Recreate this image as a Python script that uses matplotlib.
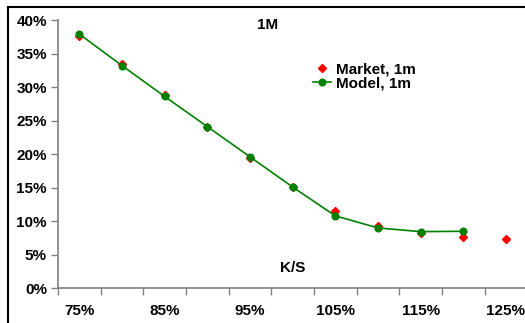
import matplotlib
matplotlib.use("Agg")
import matplotlib.pyplot as plt
from matplotlib.patches import Rectangle
from matplotlib.ticker import FuncFormatter

plt.rcParams['font.family'] = ['Liberation Sans', 'DejaVu Sans']
plt.rcParams['font.weight'] = 'bold'

# Strike / spot categories
strikes = [75, 80, 85, 90, 95, 100, 105, 110, 115, 120, 125]
# Implied volatilities (%)
market_vol = [37.6, 33.5, 28.8, 24.1, 19.5, 15.1, 11.5, 9.35, 8.2, 7.7, 7.4]
model_vol = [37.9, 33.2, 28.6, 24.1, 19.6, 15.1, 10.8, 9.0, 8.45, 8.5]
tick_labels = ["75%", "85%", "95%", "105%", "115%", "125%"]

W, H = 525, 323
fig = plt.figure(figsize=(W / 100, H / 100), dpi=100)
ax = fig.add_axes([58 / W, (H - 288.3) / H, 469.3 / W, 268.3 / H])

x_market = list(range(len(market_vol)))
x_model = list(range(len(model_vol)))

ax.plot(x_market, [v / 100 for v in market_vol], linestyle='none', marker='D',
        markersize=4, color='#ff0000', label='Market, 1m', zorder=2)
ax.plot(x_model, [v / 100 for v in model_vol], color='#008000', linewidth=1.2,
        marker='o', markersize=4.8, label='Model, 1m', zorder=3)

ax.set_xlim(-0.5, len(strikes) - 0.5)
ax.set_ylim(0, 0.40)
ax.set_yticks([i / 100 for i in range(0, 41, 5)])
ax.yaxis.set_major_formatter(FuncFormatter(lambda v, p: f"{round(v * 100):d}%"))

# Ticks between categories, labels on every other category
ax.set_xticks([i - 0.5 for i in range(len(strikes) + 1)])
ax.set_xticklabels([])
ax.set_xticks(list(range(0, len(strikes), 2)), minor=True)
ax.set_xticklabels(tick_labels, minor=True)
ax.tick_params(axis='x', which='major', length=5, direction='out', color='#808080', width=1)
ax.tick_params(axis='x', which='minor', length=0, pad=11, labelsize=11)
ax.tick_params(axis='y', length=5, direction='out', color='#808080', width=1, labelsize=11, pad=3)

for s in ['top', 'right']:
    ax.spines[s].set_visible(False)
for s in ['left', 'bottom']:
    ax.spines[s].set_color('#808080')
    ax.spines[s].set_linewidth(1.2)

for lab in ax.get_xticklabels(minor=True) + ax.get_yticklabels():
    lab.set_fontweight('bold')

fig.text(268 / W, 1 - 25 / H, "1M", ha='center', va='center', fontsize=11, fontweight='bold')
fig.text(293 / W, 1 - 268 / H, "K/S", ha='center', va='center', fontsize=11, fontweight='bold')

leg = ax.legend(loc='upper left', bbox_to_anchor=(313 / W, 1 - 62 / H),
                bbox_transform=fig.transFigure, frameon=False, fontsize=11,
                handlelength=1.2, handletextpad=0.3, labelspacing=0.0,
                borderpad=0, borderaxespad=0)
for t in leg.get_texts():
    t.set_fontweight('bold')

# Outer chart frame
fig.patches.append(Rectangle((8 / W, -0.1), 1.2, 1.1 - 6.5 / H, transform=fig.transFigure,
                             fill=False, edgecolor='black', linewidth=1.5, zorder=10))

fig.savefig("out.png", dpi=100)
